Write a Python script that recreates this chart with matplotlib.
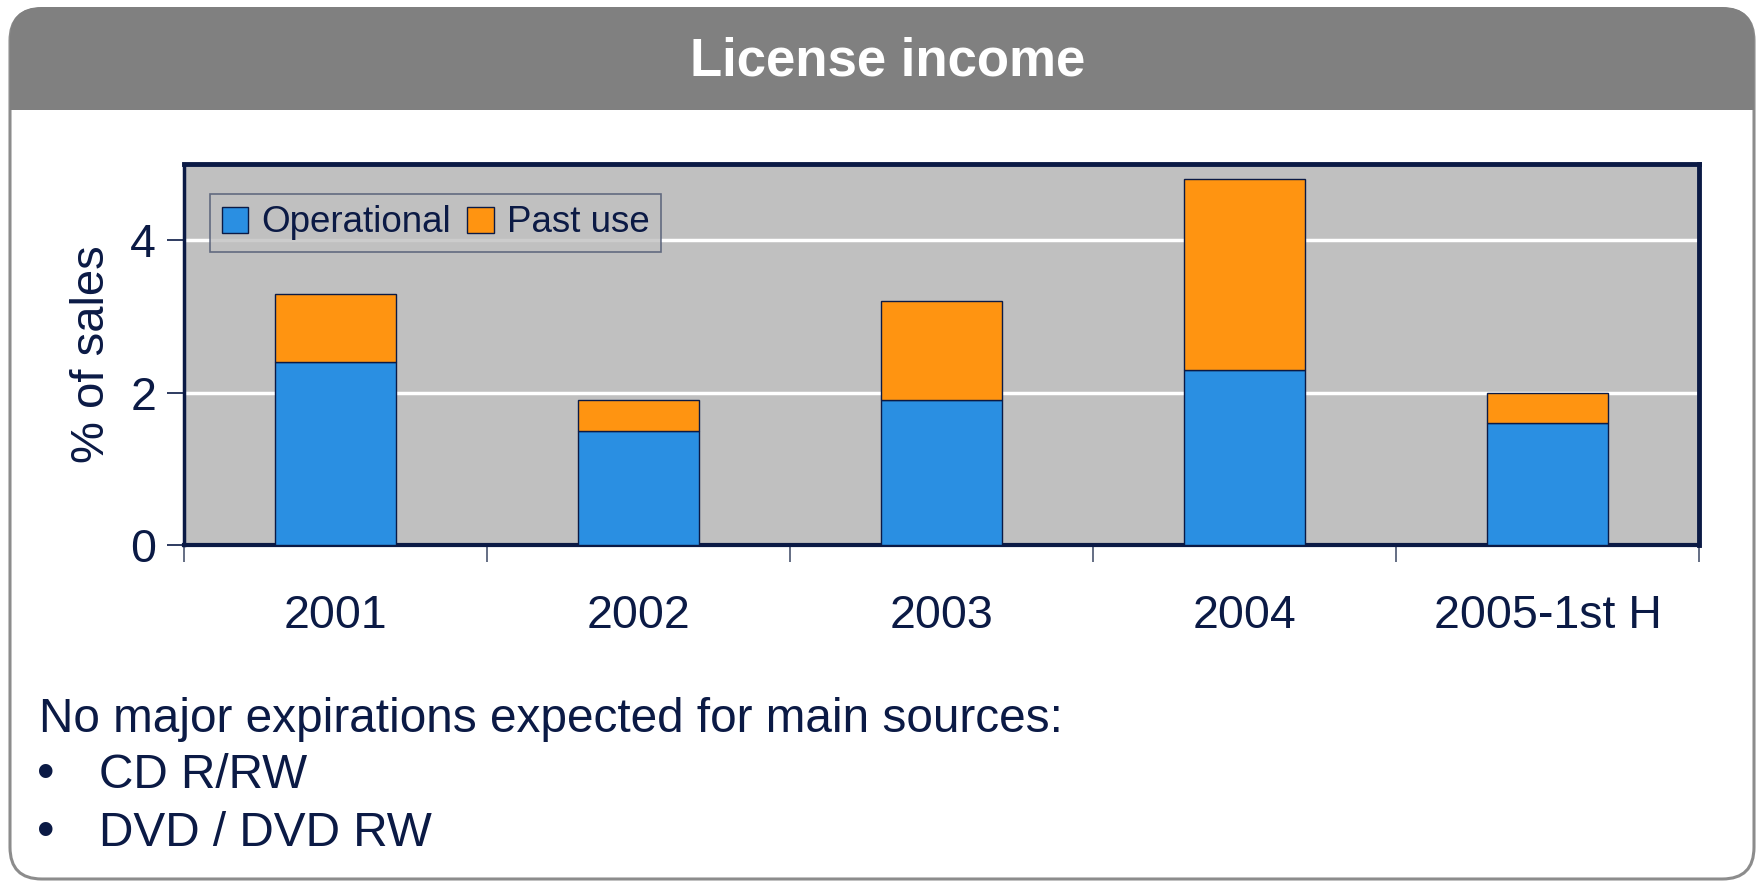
import matplotlib
matplotlib.use("Agg")
import matplotlib.pyplot as plt
from matplotlib.patches import FancyBboxPatch, Rectangle
import numpy as np

plt.rcParams['font.family'] = ['Liberation Sans', 'DejaVu Sans']

# Data
categories = ["2001", "2002", "2003", "2004", "2005-1st H"]
operational = [2.4, 1.5, 1.9, 2.3, 1.6]
past_use = [0.9, 0.4, 1.3, 2.5, 0.4]
series_names = ["Operational", "Past use"]
y_ticks = [0, 2, 4]
title_text = "License income"
y_label = "% of sales"
note_lines = ["No major expirations expected for main sources:", "CD R/RW", "DVD / DVD RW"]

NAVY = "#0B1A45"
BLUE = "#2A8FE2"
ORANGE = "#FF9411"
PANEL_GREY = "#C0C0C0"

W, H = 1762, 886
fig = plt.figure(figsize=(W / 100, H / 100), dpi=100)
fig.patch.set_facecolor("white")

# Outer rounded panel and title band
panel = FancyBboxPatch((10 / W, 7 / H), 1744 / W, 870 / H,
                       boxstyle="round,pad=0,rounding_size=0.018",
                       transform=fig.transFigure, facecolor="white",
                       edgecolor="#8C8C8C", linewidth=2.2, zorder=0,
                       mutation_aspect=W / H)
fig.patches.append(panel)
band = FancyBboxPatch((10 / W, (H - 110) / H), 1744 / W, 103 / H,
                      boxstyle="round,pad=0,rounding_size=0.018",
                      transform=fig.transFigure, facecolor="#808080",
                      edgecolor="none", zorder=1, mutation_aspect=W / H)
fig.patches.append(band)
fig.patches.append(Rectangle((10 / W, (H - 110) / H), 1744 / W, 40 / H,
                             transform=fig.transFigure, facecolor="#808080",
                             edgecolor="none", zorder=1))
fig.text(888 / W, (H - 62) / H, title_text, color="white", fontsize=38,
         fontweight="bold", ha="center", va="center", zorder=2)

# Chart
ax = fig.add_axes([184 / W, 1 - 545 / H, (1699 - 184) / W, (545 - 164) / H])
ax.set_zorder(5)
ax.set_facecolor(PANEL_GREY)
x = np.arange(len(categories))
bw = 0.40
ax.bar(x, operational, bw, color=BLUE, edgecolor=NAVY, linewidth=1.0,
       label=series_names[0], zorder=3)
ax.bar(x, past_use, bw, bottom=operational, color=ORANGE, edgecolor=NAVY,
       linewidth=1.0, label=series_names[1], zorder=3)

ax.set_xlim(-0.5, len(categories) - 0.5)
ax.set_ylim(0, 5)
ax.set_yticks(y_ticks)
ax.yaxis.grid(True, color="white", linewidth=2.5, zorder=1)
ax.set_axisbelow(True)

ax.set_xticks(np.arange(-0.5, len(categories), 1.0))
ax.set_xticklabels([])
ax.set_xticks(x, minor=True)
ax.set_xticklabels(categories, minor=True)
ax.tick_params(axis="x", which="major", direction="out", length=12,
               width=1.2, color="#4A5570")
ax.tick_params(axis="x", which="minor", length=0, pad=35,
               labelsize=33.5, labelcolor=NAVY)
ax.tick_params(axis="y", direction="out", length=12, width=1.2,
               color=NAVY, labelsize=33.5, labelcolor=NAVY, pad=8)

for side in ["top", "right", "left", "bottom"]:
    ax.spines[side].set_color(NAVY)
ax.spines["top"].set_linewidth(3.5)
ax.spines["right"].set_linewidth(3.5)
ax.spines["left"].set_linewidth(2.5)
ax.spines["bottom"].set_linewidth(3.0)

ax.set_ylabel(y_label, fontsize=34, color=NAVY, labelpad=12)

leg = ax.legend(loc="upper left", bbox_to_anchor=(0.017, 0.922), ncol=2,
                fontsize=26.5, frameon=True, fancybox=False,
                handlelength=0.72, handleheight=0.72, handletextpad=0.35,
                columnspacing=0.45, borderpad=0.32, borderaxespad=0)
leg.get_frame().set_facecolor(PANEL_GREY)
leg.get_frame().set_edgecolor("#4A5570")
leg.get_frame().set_linewidth(1.2)
for t in leg.get_texts():
    t.set_color(NAVY)

# Notes under the chart
fig.text(39 / W, 1 - 719 / H, note_lines[0], fontsize=34.4, color=NAVY,
         ha="left", va="center")
for i, line in enumerate(note_lines[1:]):
    yy = 1 - (775 + 58 * i) / H
    fig.text(37 / W, yy, "\u2022", fontsize=36, color=NAVY, ha="left", va="center")
    fig.text(99 / W, yy, line, fontsize=34.4, color=NAVY, ha="left", va="center")

fig.savefig("out.png", dpi=100, facecolor="white")
